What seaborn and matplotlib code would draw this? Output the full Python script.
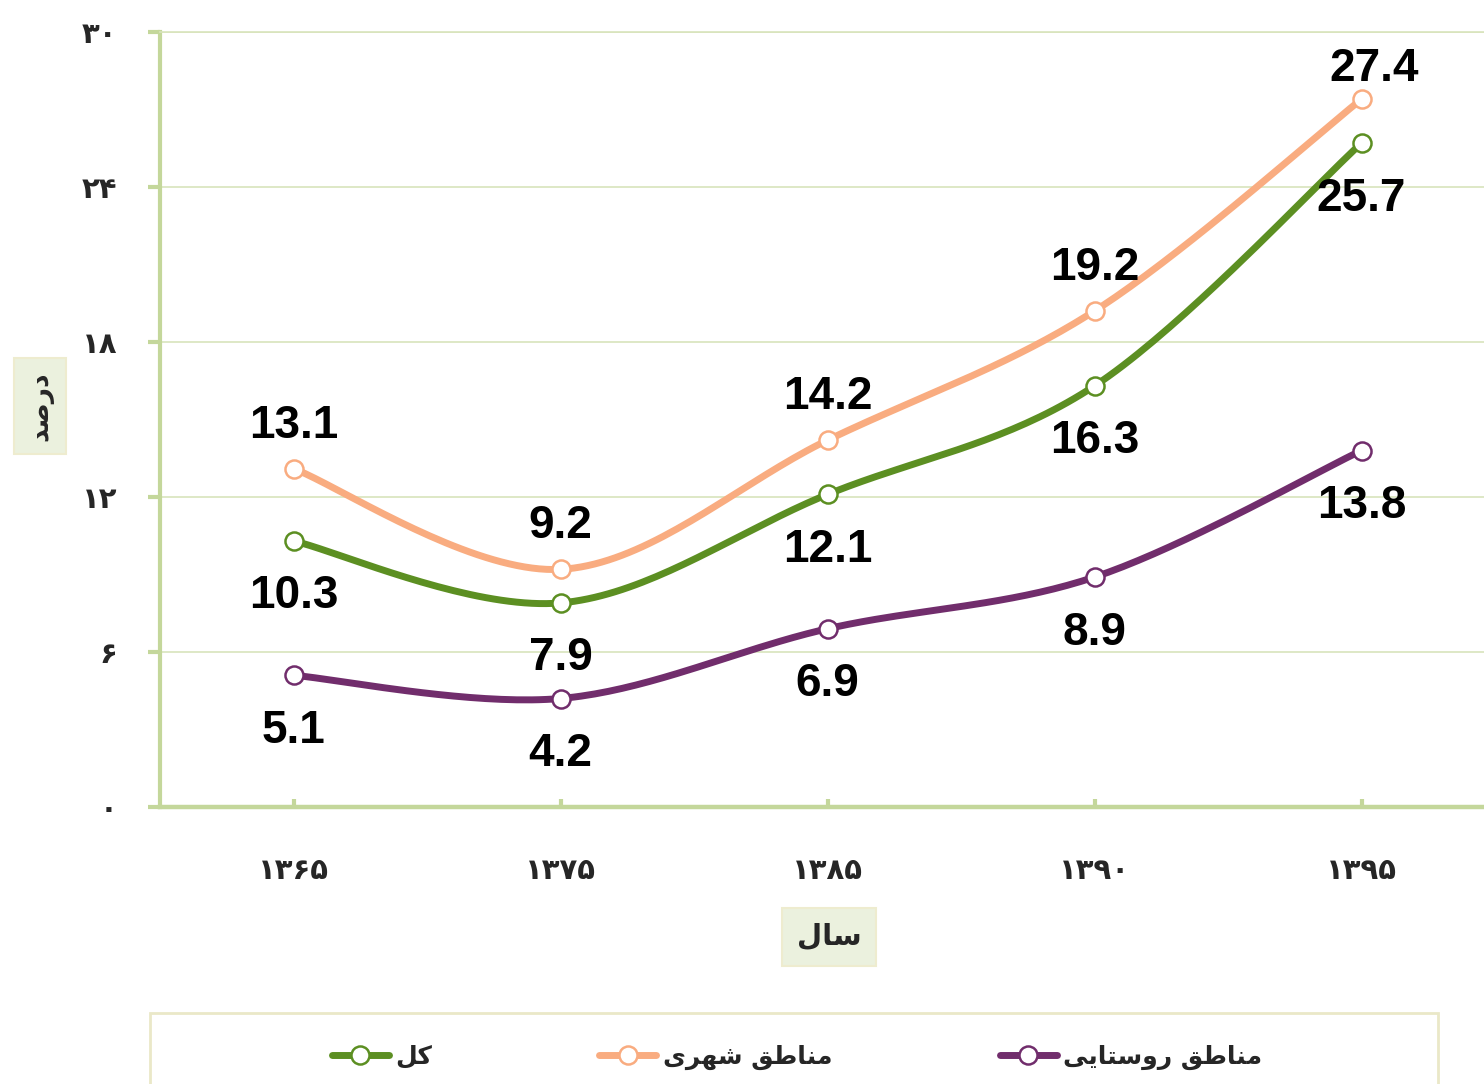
import numpy as np
import pandas as pd

import matplotlib
matplotlib.use("Agg")
import matplotlib.pyplot as plt
from matplotlib.lines import Line2D
from matplotlib.patches import Rectangle
import seaborn as sns


# Data
years = ["۱۳۶۵", "۱۳۷۵", "۱۳۸۵", "۱۳۹۰", "۱۳۹۵"]
total = [10.3, 7.9, 12.1, 16.3, 25.7]
urban = [13.1, 9.2, 14.2, 19.2, 27.4]
rural = [5.1, 4.2, 6.9, 8.9, 13.8]

# Persian labels, written in presentation forms (visual order) since matplotlib has no shaping
name_total = "\uFEDE\uFB90"
name_urban = "\uFBFC\uFEAE\uFEEC\uFEB7 \uFED6\uFEC3\uFE8E\uFEE8\uFEE3"
name_rural = "\uFBFD\uFBFE\uFE8E\uFE98\uFEB3\uFEED\uFEAD \uFED6\uFEC3\uFE8E\uFEE8\uFEE3"
xlabel_text = "\uFEDD\uFE8E\uFEB3"
ylabel_text = "\uFEAA\uFEBB\uFEAD\uFEA9"
yticks = [0, 6, 12, 18, 24, 30]
ytick_labels = ["۰", "۶", "۱۲", "۱۸", "۲۴", "۳۰"]

green = "#5C8F22"
orange = "#F9AC80"
purple = "#712D6C"
spine_col = "#C4D79B"
grid_col = "#D8E4BC"


def smooth(y, n=40):
    # Excel-like smoothed line (Catmull-Rom bezier between points)
    x = np.arange(len(y), dtype=float)
    pts = np.column_stack([x, np.asarray(y, dtype=float)])
    pts = np.vstack([pts[0], pts, pts[-1]])
    out = []
    for i in range(1, len(pts) - 2):
        p0, p1, p2, p3 = pts[i - 1], pts[i], pts[i + 1], pts[i + 2]
        c1 = p1 + (p2 - p0) / 6
        c2 = p2 - (p3 - p1) / 6
        t = np.linspace(0, 1, n)[:, None]
        seg = (1 - t) ** 3 * p1 + 3 * (1 - t) ** 2 * t * c1 + 3 * (1 - t) * t ** 2 * c2 + t ** 3 * p2
        out.append(seg if i == 1 else seg[1:])
    out = np.vstack(out)
    return out[:, 0], out[:, 1]


sns.set_style("white")
plt.rcParams["font.family"] = ["DejaVu Sans"]

fig = plt.figure(figsize=(14.84, 10.84), dpi=100)
ax = fig.add_axes([160 / 1484, 1 - 807 / 1084, 1335 / 1484, 775 / 1084])

series = [
    (total, green, name_total, -40, 0),
    (urban, orange, name_urban, 31, 0),
    (rural, purple, name_rural, -40, 0),
]

lw = 5
ms = 13
for vals, col, name, dy, dx in series:
    sx, sy = smooth(vals)
    sns.lineplot(x=sx, y=sy, ax=ax, color=col, linewidth=lw, sort=False,
                 solid_capstyle="round", zorder=3)
    ax.plot(range(len(vals)), vals, linestyle="none", marker="o", markersize=ms,
            markerfacecolor="white", markeredgecolor=col, markeredgewidth=1.8, zorder=4)
    for i, v in enumerate(vals):
        ddx, ddy = dx, dy
        if vals is urban and i == len(vals) - 1:
            ddx, ddy = 9, 22
        ax.annotate(f"{v:.1f}", (i, v), xytext=(ddx, ddy), textcoords="offset points",
                    ha="center", va="center", fontsize=33, fontweight="bold",
                    family="Liberation Sans", color="black", zorder=5)

ax.set_xlim(-0.5, 4.5)
ax.set_ylim(0, 30)
ax.set_xticks(range(len(years)))
ax.set_xticklabels(years, fontsize=21, fontweight="bold")
ax.set_yticks(yticks)
ax.set_yticklabels(ytick_labels, fontsize=21, fontweight="bold")

ax.grid(axis="y", color=grid_col, linewidth=1.2)
ax.grid(axis="x", visible=False)
ax.set_axisbelow(True)

ax.spines["right"].set_visible(False)
ax.spines["top"].set_color(grid_col)
ax.spines["top"].set_linewidth(1.2)
ax.spines["left"].set_color(spine_col)
ax.spines["left"].set_linewidth(3)
ax.spines["bottom"].set_color(spine_col)
ax.spines["bottom"].set_linewidth(3.2)

ax.tick_params(axis="y", direction="out", length=8.5, width=3, color=spine_col, pad=22, left=True)
ax.tick_params(axis="x", direction="in", length=6, width=3, color=spine_col, pad=36, bottom=True)

# Axis titles in shaded boxes
box = dict(boxstyle="square,pad=0.5", facecolor="#EBF1DE", edgecolor="#EEECCF", linewidth=1.5)
fig.text(829 / 1484, 1 - 937 / 1084, xlabel_text, ha="center", va="center",
         fontsize=21, fontweight="bold", bbox=box)
fig.text(40 / 1484, 1 - 406 / 1084, ylabel_text, ha="center", va="center",
         fontsize=19, fontweight="bold", rotation=90, bbox=box)

# Legend with a frame that runs off the bottom
fig.patches.append(Rectangle((150 / 1484, -0.01), 1288 / 1484, (1084 - 1013) / 1084 + 0.01,
                             transform=fig.transFigure, facecolor="white",
                             edgecolor="#EAE8C8", linewidth=2, zorder=0))
handles = [
    Line2D([], [], color=c, linewidth=lw, marker="o", markersize=ms,
           markerfacecolor="white", markeredgecolor=c, markeredgewidth=1.8)
    for c in [green, orange, purple]
]
fig.legend(handles, [name_total, name_urban, name_rural], loc="center",
           bbox_to_anchor=(797 / 1484, 1 - 1057 / 1084), ncol=3, frameon=False,
           prop={"size": 18, "weight": "bold"}, handlelength=2.28,
           handletextpad=0.25, columnspacing=6.7, numpoints=1)

fig.savefig("out.png", dpi=100)
